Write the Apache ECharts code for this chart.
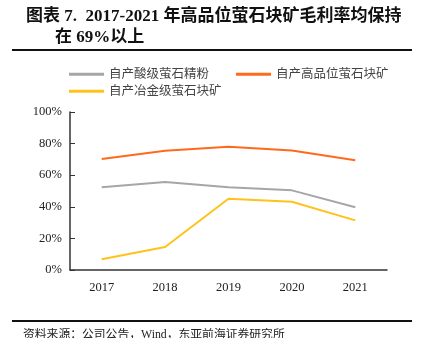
<!DOCTYPE html>
<html><head><meta charset="utf-8">
<script src="https://cdn.jsdelivr.net/npm/echarts@6/dist/echarts.min.js"></script>
<style>html,body{margin:0;padding:0;background:#fff}#c{width:422px;height:338px}</style>
</head><body><div id="c"></div>
<script>
var categories = ['2017','2018','2019','2020','2021'];
var acidPowder = [52.3, 55.7, 52.3, 50.4, 39.7];
var highGradeLump = [70.3, 75.5, 78.0, 75.7, 69.4];
var metallurgicalLump = [6.8, 14.6, 45.1, 43.2, 31.4];
var yTicks = [0, 20, 40, 60, 80, 100];
var names = ['自产酸级萤石精粉', '自产高品位萤石块矿', '自产冶金级萤石块矿'];

var serif = '"Liberation Serif","Times New Roman","Noto Sans CJK SC",serif';
var chart = echarts.init(document.getElementById('c'));
chart.setOption({
  animation: false,
  title: [{
    text: '图表 7.  2017-2021 年高品位萤石块矿毛利率均保持',
    left: 21, top: 3,
    textStyle: {fontFamily: serif, fontWeight: 'bold', fontSize: 17, color: '#111'}
  }, {
    text: '在 69%以上',
    left: 50, top: 24,
    textStyle: {fontFamily: serif, fontWeight: 'bold', fontSize: 17, color: '#111'}
  }, {
    text: '资料来源：公司公告，Wind，东亚前海证券研究所',
    left: 18, top: 324,
    textStyle: {fontFamily: serif, fontWeight: 'normal', fontSize: 11.8, color: '#222'}
  }],
  graphic: [
    {type: 'line', shape: {x1: 12, y1: 50, x2: 412, y2: 50}, style: {stroke: '#111', lineWidth: 2}},
    {type: 'line', shape: {x1: 12, y1: 321, x2: 412, y2: 321}, style: {stroke: '#111', lineWidth: 2}}
  ],
  legend: [{
    data: [names[0], names[1]],
    left: 64, top: 63,
    itemWidth: 35, itemHeight: 3, itemGap: 27,
    icon: 'rect',
    textStyle: {fontFamily: serif, fontSize: 12.5, color: '#444'}
  }, {
    data: [names[2]],
    left: 64, top: 80,
    itemWidth: 35, itemHeight: 3,
    icon: 'rect',
    textStyle: {fontFamily: serif, fontSize: 12.5, color: '#444'}
  }],
  grid: {left: 70, right: 35, top: 112, bottom: 68, containLabel: false},
  xAxis: {
    type: 'category', data: categories, boundaryGap: true,
    axisLine: {lineStyle: {color: '#333', width: 1.5}},
    axisTick: {show: false},
    axisLabel: {fontFamily: serif, fontSize: 12.5, color: '#222', margin: 11}
  },
  yAxis: {
    type: 'value', min: 0, max: 100, interval: 20,
    axisLine: {show: true, lineStyle: {color: '#333', width: 1.5}},
    axisTick: {show: true, inside: true, length: 5, lineStyle: {color: '#333'}},
    splitLine: {show: false},
    axisLabel: {fontFamily: serif, fontSize: 12.5, color: '#222', margin: 8,
      formatter: function(v){ return yTicks.indexOf(v) >= 0 ? v + '%' : ''; }}
  },
  series: [
    {name: names[0], type: 'line', data: acidPowder, symbol: 'none', lineStyle: {color: '#a6a6a6', width: 2}, itemStyle: {color: '#a6a6a6'}},
    {name: names[1], type: 'line', data: highGradeLump, symbol: 'none', lineStyle: {color: '#ff6a1a', width: 2}, itemStyle: {color: '#ff6a1a'}},
    {name: names[2], type: 'line', data: metallurgicalLump, symbol: 'none', lineStyle: {color: '#ffc21c', width: 2}, itemStyle: {color: '#ffc21c'}}
  ]
});
</script></body></html>
